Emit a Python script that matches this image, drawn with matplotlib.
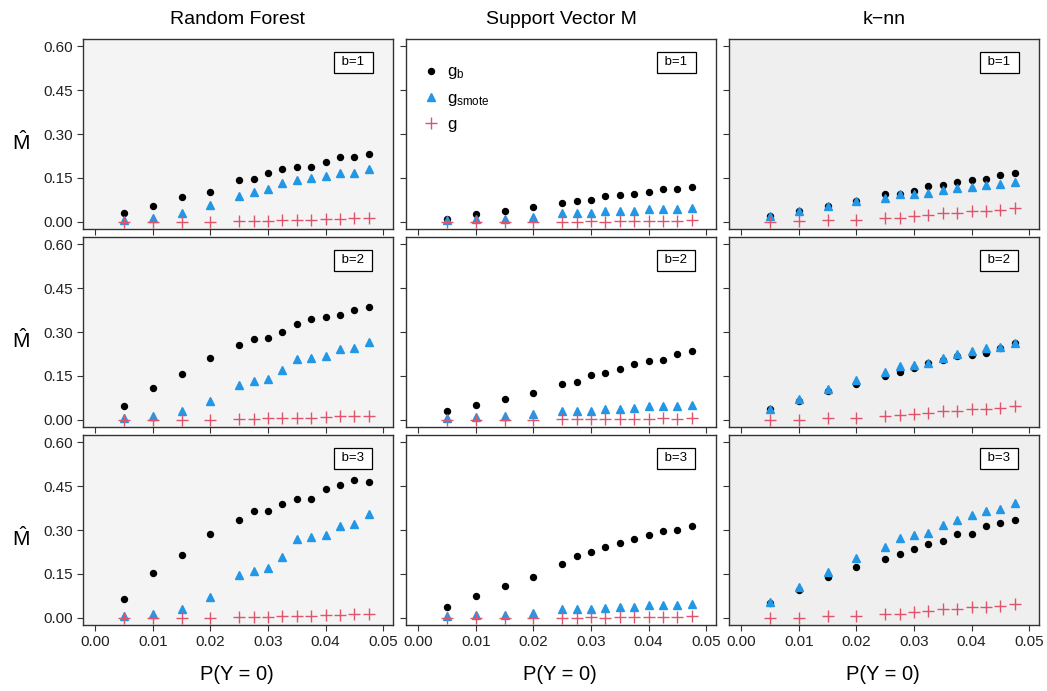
import matplotlib
matplotlib.use("Agg")
import matplotlib.pyplot as plt
import numpy as np

plt.rcParams['font.family'] = ['Liberation Sans', 'DejaVu Sans']
plt.rcParams['mathtext.fontset'] = 'custom'
plt.rcParams['mathtext.rm'] = 'Liberation Sans'
plt.rcParams['mathtext.it'] = 'Liberation Sans:italic'

# P(Y=0) values
p0 = [0.005, 0.01, 0.015, 0.02, 0.025, 0.0275, 0.03, 0.0325, 0.035, 0.0375, 0.04, 0.0425, 0.045, 0.0475]

methods = ['Random Forest', 'Support Vector M', 'k\u2212nn']

# Random Forest
rf_gb_1 = [0.031, 0.056, 0.085, 0.102, 0.144, 0.148, 0.166, 0.179, 0.187, 0.186, 0.203, 0.220, 0.223, 0.233]
rf_sm_1 = [0.006, 0.013, 0.030, 0.057, 0.090, 0.103, 0.111, 0.132, 0.144, 0.150, 0.158, 0.167, 0.168, 0.180]
rf_g_1 = [0.0, 0.0, 0.0, 0.0, 0.002, 0.003, 0.003, 0.005, 0.005, 0.008, 0.009, 0.010, 0.013, 0.014]
rf_gb_2 = [0.048, 0.109, 0.156, 0.211, 0.254, 0.276, 0.279, 0.299, 0.326, 0.344, 0.351, 0.357, 0.374, 0.385]
rf_sm_2 = [0.005, 0.014, 0.031, 0.063, 0.119, 0.132, 0.141, 0.170, 0.208, 0.213, 0.219, 0.241, 0.244, 0.267]
rf_g_2 = [0.0, 0.0, 0.001, 0.001, 0.003, 0.003, 0.005, 0.005, 0.005, 0.008, 0.010, 0.012, 0.013, 0.015]
rf_gb_3 = [0.066, 0.152, 0.214, 0.286, 0.335, 0.364, 0.365, 0.390, 0.405, 0.406, 0.441, 0.455, 0.469, 0.465]
rf_sm_3 = [0.007, 0.014, 0.032, 0.071, 0.147, 0.161, 0.170, 0.209, 0.271, 0.277, 0.282, 0.315, 0.320, 0.356]
rf_g_3 = [0.0, 0.0, 0.0, 0.0, 0.002, 0.003, 0.003, 0.005, 0.005, 0.008, 0.009, 0.010, 0.013, 0.014]

# Support Vector Machine
svm_gb_1 = [0.011, 0.026, 0.036, 0.052, 0.064, 0.072, 0.074, 0.089, 0.093, 0.095, 0.103, 0.112, 0.112, 0.120]
svm_sm_1 = [0.007, 0.010, 0.010, 0.017, 0.029, 0.029, 0.030, 0.036, 0.037, 0.038, 0.044, 0.045, 0.045, 0.049]
svm_g_1 = [0.0, 0.0, 0.0, 0.0, 0.0, 0.001, 0.002, 0.001, 0.002, 0.003, 0.003, 0.003, 0.003, 0.007]
svm_gb_2 = [0.030, 0.050, 0.073, 0.092, 0.122, 0.131, 0.154, 0.160, 0.174, 0.192, 0.200, 0.204, 0.226, 0.236]
svm_sm_2 = [0.007, 0.010, 0.013, 0.022, 0.030, 0.031, 0.031, 0.039, 0.039, 0.040, 0.047, 0.047, 0.047, 0.052]
svm_g_2 = [0.0, 0.0, 0.0, 0.001, 0.002, 0.002, 0.002, 0.002, 0.002, 0.004, 0.004, 0.005, 0.004, 0.007]
svm_gb_3 = [0.039, 0.074, 0.108, 0.141, 0.185, 0.210, 0.226, 0.242, 0.254, 0.270, 0.282, 0.295, 0.301, 0.312]
svm_sm_3 = [0.006, 0.009, 0.011, 0.018, 0.030, 0.030, 0.030, 0.035, 0.036, 0.038, 0.043, 0.044, 0.044, 0.049]
svm_g_3 = [0.0, 0.0, 0.0, 0.0, 0.0, 0.001, 0.002, 0.001, 0.002, 0.003, 0.003, 0.003, 0.003, 0.007]

# k-nn
knn_gb_1 = [0.021, 0.037, 0.054, 0.070, 0.097, 0.097, 0.105, 0.123, 0.127, 0.137, 0.143, 0.147, 0.159, 0.166]
knn_sm_1 = [0.021, 0.037, 0.054, 0.070, 0.082, 0.094, 0.097, 0.100, 0.108, 0.115, 0.120, 0.125, 0.128, 0.135]
knn_g_1 = [0.0, 0.002, 0.005, 0.008, 0.013, 0.015, 0.019, 0.023, 0.029, 0.032, 0.036, 0.039, 0.041, 0.047]
knn_gb_2 = [0.038, 0.063, 0.100, 0.123, 0.151, 0.163, 0.178, 0.193, 0.204, 0.219, 0.222, 0.228, 0.245, 0.261]
knn_sm_2 = [0.038, 0.073, 0.105, 0.138, 0.162, 0.184, 0.189, 0.195, 0.211, 0.225, 0.235, 0.244, 0.250, 0.263]
knn_g_2 = [0.0, 0.001, 0.005, 0.008, 0.015, 0.017, 0.022, 0.024, 0.029, 0.032, 0.036, 0.039, 0.040, 0.049]
knn_gb_3 = [0.052, 0.095, 0.139, 0.173, 0.202, 0.219, 0.234, 0.251, 0.263, 0.285, 0.285, 0.314, 0.324, 0.334]
knn_sm_3 = [0.054, 0.107, 0.156, 0.204, 0.241, 0.273, 0.282, 0.291, 0.316, 0.335, 0.350, 0.364, 0.373, 0.393]
knn_g_3 = [0.0, 0.001, 0.005, 0.008, 0.014, 0.015, 0.019, 0.023, 0.029, 0.032, 0.036, 0.039, 0.041, 0.047]

panels = {
    (0, 0): (rf_gb_1, rf_sm_1, rf_g_1), (1, 0): (rf_gb_2, rf_sm_2, rf_g_2), (2, 0): (rf_gb_3, rf_sm_3, rf_g_3),
    (0, 1): (svm_gb_1, svm_sm_1, svm_g_1), (1, 1): (svm_gb_2, svm_sm_2, svm_g_2), (2, 1): (svm_gb_3, svm_sm_3, svm_g_3),
    (0, 2): (knn_gb_1, knn_sm_1, knn_g_1), (1, 2): (knn_gb_2, knn_sm_2, knn_g_2), (2, 2): (knn_gb_3, knn_sm_3, knn_g_3),
}

bg = ['#f4f4f4', 'white', '#efefef']
col_x = [83, 406, 729]
row_y = [39, 237, 435]
pw, ph = 310, 190
W, H = 1047, 691

fig = plt.figure(figsize=(W / 100, H / 100), dpi=100)

for (r, c), (gb, sm, g) in panels.items():
    ax = fig.add_axes([col_x[c] / W, 1 - (row_y[r] + ph) / H, pw / W, ph / H])
    ax.set_facecolor(bg[c])
    ax.plot(p0, gb, 'o', color='black', ms=4.3, label=r'$\mathrm{g_b}$')
    ax.plot(p0, sm, '^', color='#2297E6', ms=5.8, label=r'$\mathrm{g_{smote}}$')
    ax.plot(p0, g, '+', color='#DF536B', ms=8, mew=1.0, label=r'$\mathrm{g}$')
    ax.set_xlim(-0.0021, 0.0517)
    ax.set_ylim(-0.024, 0.624)
    ax.set_xticks([0.0, 0.01, 0.02, 0.03, 0.04, 0.05])
    ax.set_yticks([0.0, 0.15, 0.30, 0.45, 0.60])
    ax.tick_params(direction='out', length=4.5, width=0.8, colors='#333333', labelsize=11,
                   labelcolor='#222222', pad=3)
    for s in ax.spines.values():
        s.set_color('#333333')
        s.set_linewidth(1.0)
    if c == 0:
        ax.set_yticklabels(['%.2f' % v for v in ax.get_yticks()])
    else:
        ax.set_yticklabels([])
    if r == 2:
        ax.set_xticklabels(['%.2f' % v for v in ax.get_xticks()])
    else:
        ax.set_xticklabels([])
    ax.text(0.871, 0.878, ' b=%d ' % (r + 1), transform=ax.transAxes, ha='center', va='center',
            fontsize=9.5, bbox=dict(boxstyle='square,pad=0.35', fc='white', ec='black', lw=0.9))
    if r == 0 and c == 1:
        ax.legend(loc='upper left', frameon=False, fontsize=12, handlelength=0.8,
                  handletextpad=0.6, labelspacing=0.55, borderaxespad=0.5,
                  bbox_to_anchor=(0.01, 0.945))
    if r == 0:
        ax.set_title(methods[c], fontsize=14, pad=11)

for r in range(3):
    fig.text(21 / W, 1 - (row_y[r] + 103) / H, r'$\hat{\mathrm{M}}$', fontsize=15, ha='center', va='center')
for c in range(3):
    fig.text((col_x[c] + 154) / W, 1 - 675 / H, 'P(Y = 0)', fontsize=14.5, ha='center', va='center')

fig.savefig('out.png', dpi=100)
